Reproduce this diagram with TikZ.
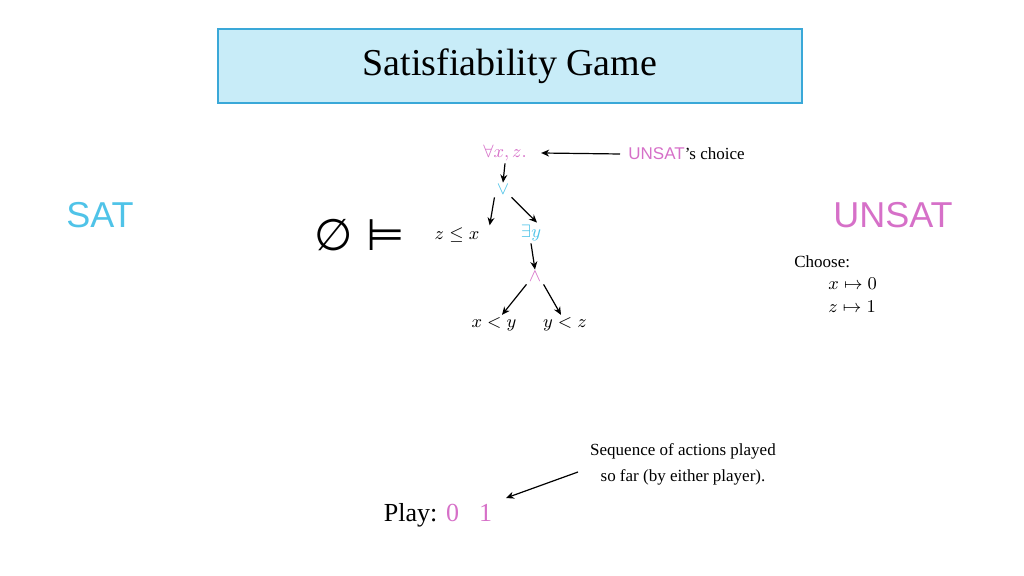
\documentclass[tikz,border=0pt]{standalone}
\usetikzlibrary{arrows.meta}
\usepackage{fontspec}
\setmainfont{Liberation Serif}
\newfontfamily\arialf{Liberation Sans}
\newfontfamily\djv{DejaVu Sans}
\definecolor{pk}{HTML}{D670C8}
\definecolor{cy}{HTML}{4FC3E8}
\definecolor{tfill}{HTML}{C8ECF8}
\definecolor{tline}{HTML}{3AA8D8}
\begin{document}
\begin{tikzpicture}[x=0.5pt,y=-0.5pt,
  ar/.style={-{Stealth[length=4pt,width=3.5pt]},line width=0.6pt},
  mt/.style={font=\fontsize{9.5}{11}\selectfont,inner sep=1pt},
  tx/.style={font=\fontsize{8.5}{10}\selectfont,inner sep=0pt}]
\useasboundingbox (0,0) rectangle (1024,576);
\node[draw=tline,fill=tfill,line width=0.8pt,minimum width=292pt,minimum height=37pt,font=\fontsize{19}{23}\selectfont] (title) at (510,66) {Satisfiability Game};
\node[text=cy,font=\arialf\fontsize{18}{20}\selectfont] (sat) at (100,215) {SAT};
\node[text=pk,font=\arialf\fontsize{18}{20}\selectfont] (unsat) at (893,215) {UNSAT};
\node[font=\djv\fontsize{22}{24}\selectfont] (em) at (360,235) {∅ ⊨};
\node[mt,text=pk] (fa) at (505,153) {$\forall x,z.$};
\node[tx,anchor=west] (uc) at (628,154) {\textcolor{pk}{\arialf UNSAT}’s choice};
\node[mt,text=cy] (or) at (503,190) {$\vee$};
\node[mt] (zx) at (457,235) {$z\le x$};
\node[mt,text=cy] (ey) at (531,233) {$\exists y$};
\node[mt,text=pk] (and) at (535,277) {$\wedge$};
\node[mt] (xy) at (494,324) {$x<y$};
\node[mt] (yz) at (565,324) {$y<z$};
\draw[ar] ([xshift=-4pt]uc.west) -- ([xshift=6pt]fa.east);
\draw[ar] (fa.south) -- (or.north);
\draw[ar] (or.south west) -- ([xshift=4pt]zx.north east);
\draw[ar] (or.south east) -- ([xshift=3pt]ey.north);
\draw[ar] (ey.south) -- (and.north);
\draw[ar] (and.south west) -- ([xshift=4pt]xy.north);
\draw[ar] (and.south east) -- ([xshift=-2pt]yz.north);
\node[tx,anchor=west] (ch) at (794,262) {Choose:};
\node[mt,anchor=west] (c1) at (826,284) {$x\mapsto 0$};
\node[mt,anchor=west] (c2) at (826,307) {$z\mapsto 1$};
\node[tx,align=center] (seq) at (683,464) {Sequence of actions played\\[3pt]so far (by either player).};
\node[font=\fontsize{13}{15}\selectfont] (play) at (438,515) {Play: \textcolor{pk}{0\hspace{10pt}1}};
\coordinate (pe) at (506,498);
\draw[ar] (578,472) -- (pe);
\end{tikzpicture}
\end{document}
